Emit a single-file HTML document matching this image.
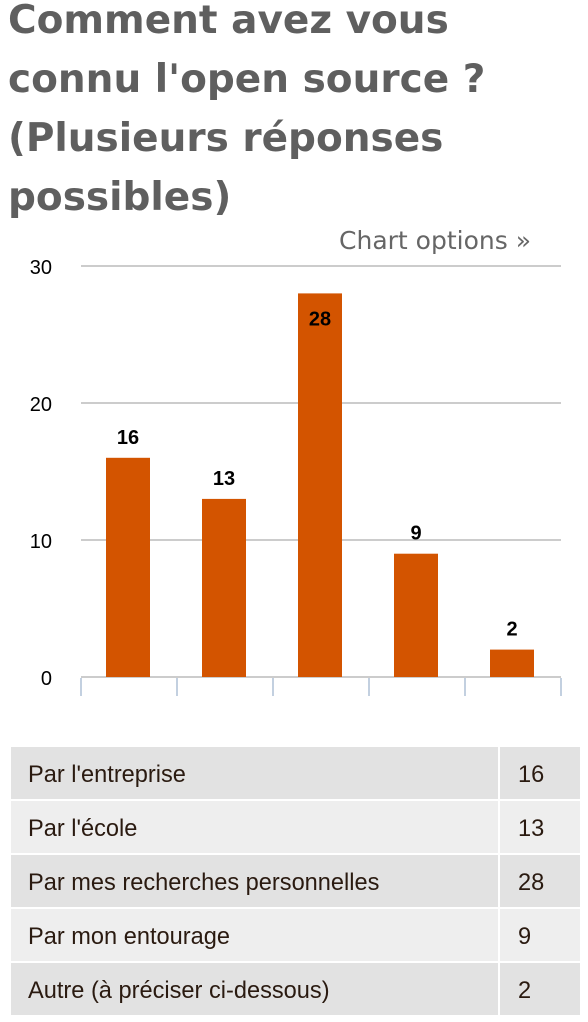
<!DOCTYPE html>
<html><head><meta charset="utf-8"><style>
body{margin:0;width:588px;height:1022px;background:#fff;overflow:hidden;position:relative}
h1{position:absolute;left:8px;top:-9px;margin:0;width:505px;font:bold 39px/59px "DejaVu Sans",sans-serif;color:#5f5f5f}
#opts{position:absolute;right:57px;top:226px;font:25px "DejaVu Sans",sans-serif;color:#666;text-decoration:none}
svg{position:absolute;left:0;top:0}
table{position:absolute;left:9px;top:745px;width:573px;border-collapse:collapse;font:23.6px/26px "Liberation Sans",sans-serif;color:#2a1a10}
td{height:49px;padding:3px 0 0 17px;border:2px solid #fff}
tr:nth-child(odd) td{background:#e2e2e2}
tr:nth-child(even) td{background:#eeeeee}
td.v{width:62px;padding-left:18px}
</style></head><body>
<h1>Comment avez vous connu l'open source ? (Plusieurs réponses possibles)</h1>
<a id="opts">Chart options »</a>
<svg id="chart" width="588" height="720"></svg>
<table id="tbl"></table>
<script>
const categories=["Par l'entreprise","Par l'école","Par mes recherches personnelles","Par mon entourage","Autre (à préciser ci-dessous)"];
const values=[16,13,28,9,2];
const yTicks=[0,10,20,30];
const NS="http://www.w3.org/2000/svg";
const svg=document.getElementById('chart');
const x0=81,bandW=96,yMax=30,yBase=677,yTop=266;
const y=v=>yBase-(v/yMax)*(yBase-yTop);
function mk(t,a){const e=document.createElementNS(NS,t);for(const k in a)e.setAttribute(k,a[k]);svg.appendChild(e);return e;}
yTicks.forEach(t=>{
  if(t>0){const g=mk('line',{x1:x0,x2:561,y1:y(t),y2:y(t),stroke:'#cccccc','stroke-width':2});
  
  }
  const l=mk('text',{x:52,y:y(t)+8,'text-anchor':'end','font-family':'Liberation Sans, sans-serif','font-size':20,fill:'#000'});
  l.textContent=t;
  
  
});
const base=mk('line',{x1:x0,x2:561,y1:yBase,y2:yBase,stroke:'#cccccc','stroke-width':2});


for(let i=0;i<=categories.length;i++){
  const tk=mk('line',{x1:x0+i*bandW,x2:x0+i*bandW,y1:yBase+1,y2:yBase+19,stroke:'#c3d0e0','stroke-width':2});
  
  
}
values.forEach((v,i)=>{
  const bx=x0+i*bandW+25;
  const r=mk('rect',{x:bx,y:y(v),width:44,height:yBase-y(v),fill:'#d35400'});
  
  
  const inside=y(v)<300;
  const t=mk('text',{x:bx+22,y:inside?y(v)+32:y(v)-14,'text-anchor':'middle','font-family':'Liberation Sans, sans-serif','font-weight':'bold','font-size':20,fill:'#000'});
  t.textContent=v;
  
  
});
const tbl=document.getElementById('tbl');
categories.forEach((c,i)=>{
  const tr=document.createElement('tr');
  
  
  const a=document.createElement('td');a.textContent=c;
  
  
  const b=document.createElement('td');b.className='v';b.textContent=values[i];
  
  
  tr.appendChild(a);tr.appendChild(b);tbl.appendChild(tr);
});
</script>
</body></html>
